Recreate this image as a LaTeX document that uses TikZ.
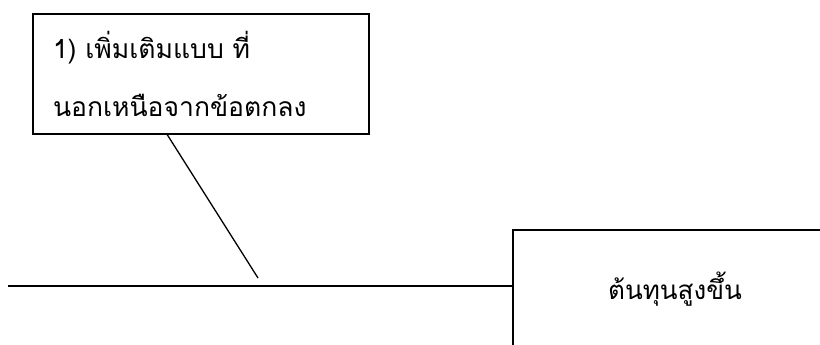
\documentclass[tikz,border=0pt]{standalone}
\usepackage{fontspec}
\newfontfamily\thaifont[Script=Thai]{Loma}
\usetikzlibrary{calc}

\begin{document}
\begin{tikzpicture}[x=1pt,y=-1pt,
  box/.style={draw, line width=1.4pt, inner sep=0pt},
  bone/.style={line width=1.3pt}]
\useasboundingbox (0,0) rectangle (820,345);
\clip (0,0) rectangle (820,345);
\node[box, minimum width=336pt, minimum height=120pt, text width=296pt, align=left,
  font=\thaifont\fontsize{26.5}{58}\selectfont] (issue) at (201,74)
  {1) เพิ่มเติมแบบ ที่\\นอกเหนือจากข้อตกลง};
\node[box, minimum width=324pt, minimum height=118pt,
  font=\thaifont\fontsize{26}{30}\selectfont] (cost) at (675,289) {ต้นทุนสูงขึ้น};
\coordinate (tail) at (8,286);
\coordinate (hit) at (258,278);
\draw[bone] (tail) -- (tail -| cost.west);
\draw[bone] ($(issue.south west)!0.4!(issue.south east)$) -- (hit);
\end{tikzpicture}
\end{document}
